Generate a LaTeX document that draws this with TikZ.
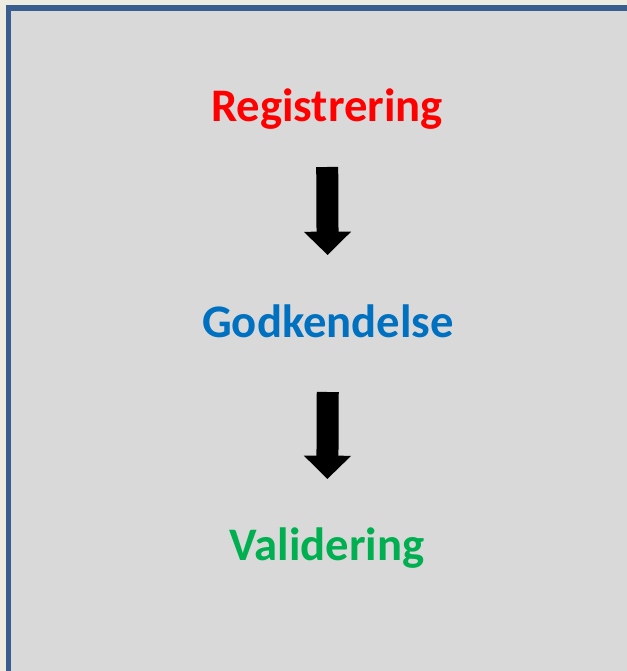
\documentclass[tikz,border=0pt]{standalone}
\usepackage{fontspec}
\setmainfont{Carlito}
\usetikzlibrary{arrows.meta,positioning}
\definecolor{paper}{HTML}{EEECE1}
\definecolor{panel}{HTML}{D9D9D9}
\definecolor{frame}{HTML}{3A5F8F}
\definecolor{stepred}{HTML}{FF0000}
\definecolor{stepblue}{HTML}{0070C0}
\definecolor{stepgreen}{HTML}{00B050}
\begin{document}
\begin{tikzpicture}[
    x=0.75pt, y=-0.75pt,
    font=\fontsize{35pt}{42pt}\selectfont\bfseries,
    phase/.style={
		inner sep=0pt,
		anchor=base
	},
	down/.style={
		draw=black,
		line width=16.5pt,
		-{Triangle[width=34.5pt,length=17.5pt]}
	}
  ]
    % background and frame (only left and top edges are seen)
  \useasboundingbox (0,0) rectangle (627,671);
  \fill [paper] (0,0) rectangle (627,671);
  \fill [panel] (8.5,8) rectangle (627,671);
  \fill [frame] (5.7,5.2) rectangle (11.3,671);
  \fill [frame] (5.7,5.2) rectangle (627,10.8);

    % the three phases
  \node [phase, text=stepred] (reg) at (327,121) {Registrering};
  \node [phase, text=stepblue] (god) at (328,337) {Godkendelse};
  \node [phase, text=stepgreen] (val) at (327,560) {Validering};

  \draw [down, shorten <=34.5pt, shorten >=61.5pt] (reg.base) -- (god.base);
  \draw [down, shorten <=41.25pt, shorten >=60.75pt] (god.base) -- (val.base);

\end{tikzpicture}
\end{document}
